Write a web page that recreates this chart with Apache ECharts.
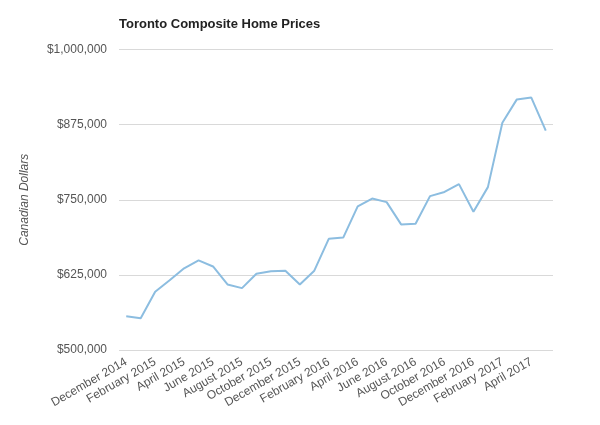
<!DOCTYPE html>
<html>
<head>
<meta charset="utf-8">
<script src="https://cdn.jsdelivr.net/npm/echarts@6/dist/echarts.min.js"></script>
<style>
html,body{margin:0;padding:0;background:#fff;}
#chart{width:600px;height:425px;}
</style>
</head>
<body>
<div id="chart"></div>
<script>
var months = [
  "December 2014","January 2015","February 2015","March 2015","April 2015","May 2015",
  "June 2015","July 2015","August 2015","September 2015","October 2015","November 2015",
  "December 2015","January 2016","February 2016","March 2016","April 2016","May 2016",
  "June 2016","July 2016","August 2016","September 2016","October 2016","November 2016",
  "December 2016","January 2017","February 2017","March 2017","April 2017","May 2017"
];
var prices = [
  556000, 553000, 597000, 616000, 636000, 649000,
  639000, 609000, 603000, 627000, 631000, 632000,
  609000, 632000, 685000, 687000, 739000, 752000,
  746000, 709000, 710000, 756000, 763000, 776000,
  730000, 771000, 878000, 917000, 920000, 865000
];
var yTicks = [500000, 625000, 750000, 875000, 1000000];

var chart = echarts.init(document.getElementById('chart'));
function fmt(v){ return '$' + v.toString().replace(/\B(?=(\d{3})+(?!\d))/g, ','); }
chart.setOption({
  animation: false,
  title: {
    text: 'Toronto Composite Home Prices',
    left: 114, top: 13,
    textStyle: {fontFamily: 'Liberation Sans, Arial, sans-serif', fontSize: 13, fontWeight: 'bold', color: '#222'}
  },
  grid: {left: 119, right: 47, top: 49.5, bottom: 75, containLabel: false},
  xAxis: {
    type: 'category',
    data: months,
    boundaryGap: true,
    axisLine: {show: false},
    axisTick: {show: false},
    axisLabel: {
      interval: 1, rotate: 30, margin: 11,
      fontFamily: 'Liberation Sans, Arial, sans-serif', fontSize: 12, color: '#555'
    }
  },
  yAxis: {
    type: 'value',
    min: yTicks[0], max: yTicks[yTicks.length-1], interval: 125000,
    name: 'Canadian Dollars',
    nameLocation: 'middle',
    nameGap: 88,
    nameTextStyle: {fontFamily: 'Liberation Sans, Arial, sans-serif', fontSize: 12, fontStyle: 'italic', color: '#555'},
    axisLine: {show: false},
    axisTick: {show: false},
    axisLabel: {
      formatter: fmt, margin: 12,
      fontFamily: 'Liberation Sans, Arial, sans-serif', fontSize: 12, color: '#555'
    },
    splitLine: {lineStyle: {color: '#d9d9d9', width: 1}}
  },
  series: [{
    type: 'line',
    data: prices,
    symbol: 'none',
    lineStyle: {color: '#8cbde0', width: 2},
    itemStyle: {color: '#8cbde0'}
  }]
});
</script>
</body>
</html>
